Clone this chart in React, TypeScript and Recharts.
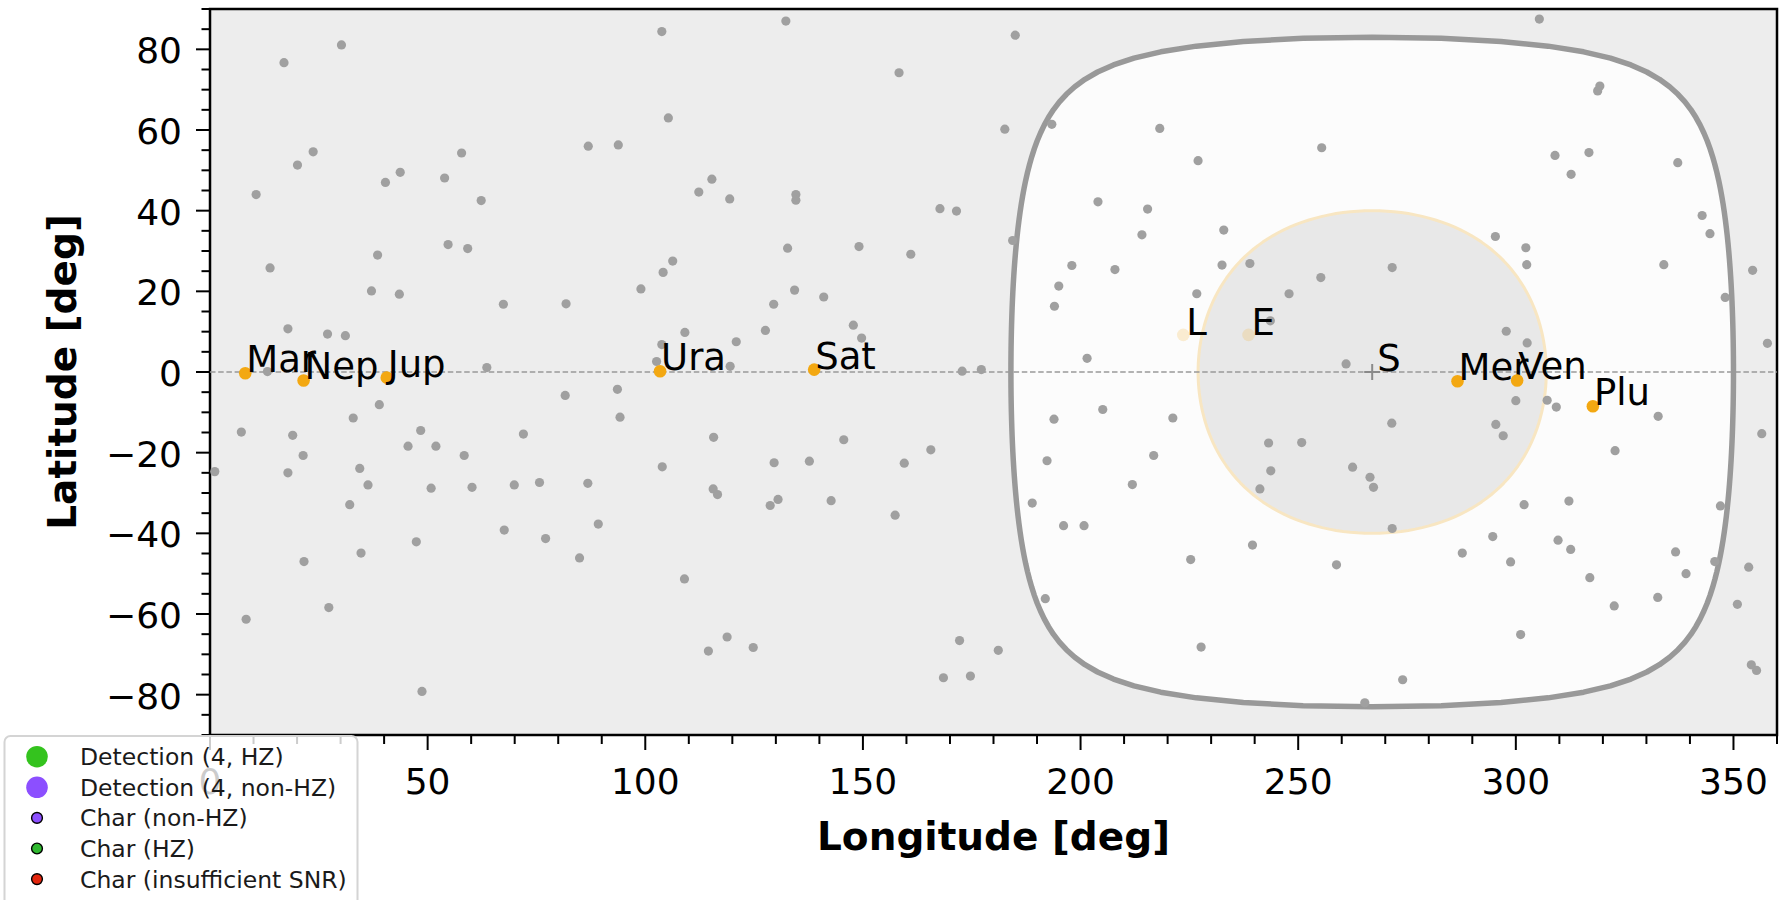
import React from 'react';
import { ScatterChart, Scatter, XAxis, YAxis, CartesianGrid, ReferenceArea } from 'recharts';

const FONT = '"DejaVu Sans", "Liberation Sans", sans-serif';

// Axis ticks (deg)
const X_TICKS = [0, 10, 20, 30, 40, 50, 60, 70, 80, 90, 100, 110, 120, 130, 140, 150, 160, 170, 180,
  190, 200, 210, 220, 230, 240, 250, 260, 270, 280, 290, 300, 310, 320, 330, 340, 350, 360];
const X_MAJOR = [0, 50, 100, 150, 200, 250, 300, 350];
const Y_TICKS = [-90, -85, -80, -75, -70, -65, -60, -55, -50, -45, -40, -35, -30, -25, -20, -15, -10, -5,
  0, 5, 10, 15, 20, 25, 30, 35, 40, 45, 50, 55, 60, 65, 70, 75, 80, 85, 90];
const Y_MAJOR = [-80, -60, -40, -20, 0, 20, 40, 60, 80];

// Sun position and the two angular-distance contours drawn around it (deg)
const SUN = { name: 'S', lon: 267, lat: 0 };
const OUTER_RADIUS = 83;
const INNER_RADIUS = 40;

// Solar-system bodies (ecliptic lon, lat)
const planets = [
  { name: 'Mar', lon: 8.1, lat: -0.3 },
  { name: 'Nep', lon: 21.5, lat: -2.1 },
  { name: 'Jup', lon: 40.6, lat: -1.4 },
  { name: 'Ura', lon: 103.4, lat: 0.2 },
  { name: 'Sat', lon: 138.8, lat: 0.6 },
  { name: 'Mer', lon: 286.6, lat: -2.3 },
  { name: 'Ven', lon: 300.3, lat: -2.1 },
  { name: 'Plu', lon: 317.7, lat: -8.5 },
];
const faintBodies = [
  { name: 'L', lon: 223.6, lat: 9.2 },
  { name: 'E', lon: 238.6, lat: 9.2 },
];

// Target stars [lon, lat]
const targets: [number, number][] = [
  [30.2, 81.1], [17.0, 76.7], [23.7, 54.6], [20.1, 51.3], [10.6, 44.0], [40.3, 47.0], [43.7, 49.5],
  [53.9, 48.1], [57.8, 54.3], [62.3, 42.5], [86.9, 56.0], [13.8, 25.8], [38.5, 29.0], [54.7, 31.6],
  [59.2, 30.6], [37.1, 20.1], [43.5, 19.3], [67.4, 16.8], [81.8, 16.9], [17.9, 10.7], [27.0, 9.4],
  [31.1, 9.0], [13.2, 0.1], [63.6, 1.1], [81.6, -5.8], [38.9, -8.1], [32.9, -11.4], [7.2, -14.9],
  [19.0, -15.7], [48.4, -14.5], [72.0, -15.4], [45.5, -18.4], [51.9, -18.4], [21.4, -20.7],
  [58.4, -20.7], [1.1, -24.7], [17.9, -25.0], [34.4, -23.9], [36.3, -28.0], [50.8, -28.8],
  [60.2, -28.6], [69.9, -28.0], [75.7, -27.4], [86.8, -27.6], [32.1, -32.9], [89.2, -37.7],
  [67.6, -39.2], [47.4, -42.1], [77.1, -41.3], [34.7, -44.9], [21.6, -47.0], [84.9, -46.1],
  [27.3, -58.4], [8.3, -61.3], [48.7, -79.2],
  [103.8, 84.4], [132.3, 87.0], [185.0, 83.5], [158.3, 74.2], [105.3, 63.0], [93.8, 56.3],
  [182.6, 60.2], [193.4, 61.4], [218.2, 60.4], [227.0, 52.4], [115.3, 47.8], [112.3, 44.6],
  [119.4, 42.9], [134.6, 44.0], [134.6, 42.6], [167.7, 40.5], [171.5, 39.9], [204.0, 42.2],
  [215.4, 40.4], [214.1, 34.0], [184.4, 32.6], [132.7, 30.7], [149.1, 31.1], [161.0, 29.2],
  [106.3, 27.5], [104.1, 24.7], [99.0, 20.6], [134.3, 20.3], [141.0, 18.6], [129.5, 16.8],
  [198.0, 26.4], [207.9, 25.4], [195.0, 21.3], [194.0, 16.3], [226.7, 19.4], [127.6, 10.3],
  [109.1, 9.8], [147.8, 11.6], [149.7, 8.4], [120.9, 7.5], [103.8, 6.8], [102.6, 2.6],
  [119.5, 1.4], [172.8, 0.2], [177.2, 0.6], [201.5, 3.4], [93.6, -4.3], [94.2, -11.2],
  [115.7, -16.2], [145.6, -16.8], [165.6, -19.3], [193.9, -11.7], [205.1, -9.3], [221.2, -11.4],
  [103.9, -23.5], [129.6, -22.5], [137.7, -22.1], [159.5, -22.6], [115.6, -29.0], [116.6, -30.4],
  [130.5, -31.6], [128.7, -33.1], [142.7, -31.9], [157.4, -35.5], [192.3, -22.0], [216.8, -20.7],
  [211.9, -27.9], [188.9, -32.5], [196.1, -38.1], [200.8, -38.1], [225.3, -46.5], [109.0, -51.3],
  [191.9, -56.2], [118.8, -65.7], [114.5, -69.2], [124.8, -68.3], [172.2, -66.6], [181.1, -69.0],
  [168.5, -75.8], [174.7, -75.4], [227.7, -68.2],
  [305.4, 87.5], [318.8, 69.7], [319.3, 70.9], [255.4, 55.6], [309.0, 53.7], [316.8, 54.4],
  [312.7, 49.0], [337.2, 51.9], [342.8, 38.8], [344.6, 34.3], [232.9, 35.2], [295.3, 33.6],
  [302.3, 30.8], [302.5, 26.6], [232.5, 26.5], [238.9, 26.9], [271.6, 25.9], [255.2, 23.4],
  [247.9, 19.4], [334.0, 26.6], [354.4, 25.2], [348.1, 18.5], [243.6, 12.7], [297.8, 10.1],
  [302.6, 7.2], [357.8, 7.1], [261.0, 2.0], [300.0, -7.1], [307.2, -7.0], [309.3, -8.7],
  [332.7, -11.0], [271.5, -12.7], [295.4, -13.0], [297.1, -15.8], [356.5, -15.3], [243.2, -17.6],
  [250.8, -17.5], [322.8, -19.5], [243.7, -24.5], [241.2, -29.0], [262.5, -23.6], [266.5, -26.1],
  [267.3, -28.6], [271.6, -38.8], [239.5, -42.9], [258.8, -47.8], [301.9, -32.9], [312.2, -32.0],
  [347.0, -33.2], [294.7, -40.8], [309.7, -41.7], [312.6, -44.0], [287.7, -44.9], [298.8, -47.1],
  [336.7, -44.6], [345.7, -47.0], [353.5, -48.4], [339.1, -50.0], [317.0, -51.0], [332.6, -55.9],
  [322.6, -58.0], [350.9, -57.6], [301.1, -65.1], [274.0, -76.3], [265.3, -82.0], [354.1, -72.6],
  [355.3, -74.0],
];

const legendItems = [
  { label: 'Detection (4, HZ)', color: '#34c31e', r: 10.8, edge: false },
  { label: 'Detection (4, non-HZ)', color: '#8c4fff', r: 10.8, edge: false },
  { label: 'Char (non-HZ)', color: '#8c4fff', r: 5.4, edge: true },
  { label: 'Char (HZ)', color: '#2fb82f', r: 5.4, edge: true },
  { label: 'Char (insufficient SNR)', color: '#e3260e', r: 5.4, edge: true },
];

const PLANET_COLOR = '#f3a812';
const STAR_COLOR = '#a0a0a0';

// Boundary of the sky region within `radius` degrees of the Sun, in lon/lat coordinates
function capOutline(radius: number) {
  const d = (radius * Math.PI) / 180;
  const pts: { lon: number; lat: number }[] = [];
  for (let a = 0; a <= 360; a += 2) {
    const t = (a * Math.PI) / 180;
    const lat = Math.asin(Math.sin(d) * Math.cos(t));
    const dlon = Math.atan2(Math.sin(t) * Math.sin(d), Math.cos(d));
    pts.push({ lon: SUN.lon + (dlon * 180) / Math.PI, lat: (lat * 180) / Math.PI });
  }
  return pts;
}

const outerCap = capOutline(OUTER_RADIUS);
const innerCap = capOutline(INNER_RADIUS);
const eclipticLine = [{ lon: 0, lat: 0 }, { lon: 360, lat: 0 }];
const starPoints = targets.map(([lon, lat]) => ({ lon, lat }));

const fmt = (v: number) => (v < 0 ? '\u2212' + Math.abs(v) : String(v));

const filledPath = (fill: string, stroke: string, strokeWidth: number) => (props: any) => {
  const pts = (props.points || []).filter((p: any) => p.x != null && p.y != null);
  const d = pts.map((p: any, i: number) => `${i ? 'L' : 'M'}${p.x},${p.y}`).join('') + 'Z';
  return <path d={d} fill={fill} stroke={stroke} strokeWidth={strokeWidth} strokeLinejoin="round" />;
};

const noShape = () => <g />;

const XTick = (props: any) => {
  const { x, y, payload } = props;
  const v = payload.value;
  const major = X_MAJOR.includes(v);
  return (
    <g>
      <line x1={x} y1={y} x2={x} y2={y + (major ? 15 : 9)} stroke="#000" strokeWidth={2} />
      {major && (
        <text x={x} y={y + 59} textAnchor="middle" fontSize={36} fontFamily={FONT} fill="#000">
          {fmt(v)}
        </text>
      )}
    </g>
  );
};

const YTick = (props: any) => {
  const { x, y, payload } = props;
  const v = payload.value;
  const major = Y_MAJOR.includes(v);
  return (
    <g>
      <line x1={x} y1={y} x2={x - (major ? 14 : 8.5)} y2={y} stroke="#000" strokeWidth={2} />
      {major && (
        <text x={x - 28} y={y + 14} textAnchor="end" fontSize={36} fontFamily={FONT} fill="#000">
          {fmt(v)}
        </text>
      )}
    </g>
  );
};

const XTitle = (props: any) => {
  const vb = props.viewBox || {};
  return (
    <text x={vb.x + vb.width / 2} y={vb.y + 115} textAnchor="middle" fontSize={39} fontWeight="bold"
      fontFamily={FONT} fill="#000">
      Longitude [deg]
    </text>
  );
};

const YTitle = (props: any) => {
  const vb = props.viewBox || {};
  const cx = 76;
  const cy = vb.y + vb.height / 2;
  return (
    <text x={cx} y={cy} transform={`rotate(-90, ${cx}, ${cy})`} textAnchor="middle" fontSize={39}
      fontWeight="bold" fontFamily={FONT} fill="#000">
      Latitude [deg]
    </text>
  );
};

const StarDot = (p: any) => <circle cx={p.cx} cy={p.cy} r={4.6} fill={STAR_COLOR} />;

const PlanetDot = (p: any) => (
  <g>
    <circle cx={p.cx} cy={p.cy} r={6.3} fill={PLANET_COLOR} />
    <text x={p.cx + 1} y={p.cy - 1} fontSize={37} fontFamily={FONT} fill="#000">
      {p.payload?.name}
    </text>
  </g>
);

const FaintDot = (p: any) => (
  <g>
    <circle cx={p.cx} cy={p.cy} r={6.3} fill={PLANET_COLOR} fillOpacity={0.18} />
    <text x={p.cx + 3} y={p.cy} fontSize={37} fontFamily={FONT} fill="#000">
      {p.payload?.name}
    </text>
  </g>
);

const SunMark = (p: any) => (
  <g>
    <line x1={p.cx - 8} y1={p.cy} x2={p.cx + 8} y2={p.cy} stroke="#8a8a8a" strokeWidth={2} />
    <line x1={p.cx} y1={p.cy - 8} x2={p.cx} y2={p.cy + 8} stroke="#8a8a8a" strokeWidth={2} />
    <text x={p.cx + 5} y={p.cy - 1} fontSize={37} fontFamily={FONT} fill="#000">
      {p.payload?.name}
    </text>
  </g>
);

const Legend = () => (
  <svg width={362} height={166} style={{ position: 'absolute', left: 0, top: 734 }}>
    <rect x={4.5} y={2} width={353} height={200} rx={6} fill="#ffffff" fillOpacity={0.8}
      stroke="#d4d4d4" strokeWidth={2} />
    {legendItems.map((it, i) => {
      const cy = 22.7 + i * 30.6;
      return (
        <g key={it.label}>
          <circle cx={37} cy={cy} r={it.r} fill={it.color} stroke={it.edge ? '#000' : 'none'}
            strokeWidth={it.edge ? 1.4 : 0} />
          <text x={80} y={cy + 8.5} fontSize={23.5} fontFamily={FONT} fill="#1a1a1a">
            {it.label}
          </text>
        </g>
      );
    })}
  </svg>
);

export default function App() {
  return (
    <div style={{ position: 'absolute', left: 0, top: 0, width: 1787, height: 900, overflow: 'hidden', background: '#fff' }}>
      <ScatterChart width={1787} height={900} margin={{ top: 9, right: 10, bottom: 0, left: 0 }}>
        <CartesianGrid horizontal={false} vertical={false} fill="#ededed" fillOpacity={1} />
        <XAxis type="number" dataKey="lon" domain={[0, 360]} ticks={X_TICKS} interval={0}
          allowDataOverflow height={165} tickSize={0} tickMargin={0} axisLine={false} tickLine={false}
          tick={XTick} label={XTitle} />
        <YAxis type="number" dataKey="lat" domain={[-90, 90]} ticks={Y_TICKS} interval={0}
          allowDataOverflow width={210} tickSize={0} tickMargin={0} axisLine={false} tickLine={false}
          tick={YTick} label={YTitle} />
        <Scatter data={outerCap} line={filledPath('#fcfcfc', '#999999', 5.5)} lineType="joint"
          shape={noShape} isAnimationActive={false} legendType="none" />
        <Scatter data={innerCap} line={filledPath('#e8e8e8', '#f8e6c2', 3)} lineType="joint"
          shape={noShape} isAnimationActive={false} legendType="none" />
        <Scatter data={eclipticLine} line={{ stroke: '#999999', strokeWidth: 1.5, strokeDasharray: '5.5 2.7' }}
          lineType="joint" shape={noShape} isAnimationActive={false} legendType="none" />
        <Scatter data={starPoints} shape={StarDot} isAnimationActive={false} legendType="none" />
        <Scatter data={[SUN]} shape={SunMark} isAnimationActive={false} legendType="none" />
        <Scatter data={faintBodies} shape={FaintDot} isAnimationActive={false} legendType="none" />
        <Scatter data={planets} shape={PlanetDot} isAnimationActive={false} legendType="none" />
        <ReferenceArea x1={0} x2={360} y1={-90} y2={90} fill="none" stroke="#000" strokeWidth={2.5}
          fillOpacity={0} ifOverflow="visible" />
      </ScatterChart>
      <Legend />
    </div>
  );
}
